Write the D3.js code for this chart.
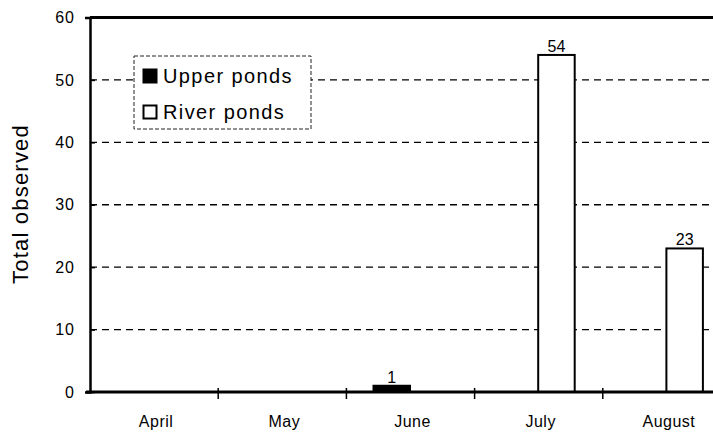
<!DOCTYPE html>
<html>
<head>
<meta charset="utf-8">
<script src="https://cdn.jsdelivr.net/npm/d3@7"></script>
<style>
  body { margin: 0; background: #fff; }
  svg { display: block; font-family: Arial, "Liberation Sans", sans-serif; }
</style>
</head>
<body>
<div id="chart"></div>
<script>
// data
var months = ["April", "May", "June", "July", "August"];
var series = ["Upper ponds", "River ponds"];
var upperPonds = [0, 0, 1, 0, 0];
var riverPonds = [0, 0, 0, 54, 23];
var yTicks = [0, 10, 20, 30, 40, 50, 60];

var W = 713, H = 437;
var margin = { left: 90, top: 17.5, bottom: 45 };
var plotRight = 731;   // plot keeps going past the right edge of the picture

var svg = d3.select("#chart").append("svg")
    .attr("width", W)
    .attr("height", H);

var x = d3.scaleBand().domain(months).range([margin.left, plotRight]);
var x1 = d3.scaleBand().domain(series)
    .range([x.bandwidth() / 2 - 37, x.bandwidth() / 2 + 36]);
var y = d3.scaleLinear().domain([0, 60]).range([392, margin.top]);

// dashed gridlines
svg.append("g").selectAll("line")
    .data(yTicks.filter(function(d){ return d > 0 && d < 60; }))
    .enter().append("line")
    .attr("x1", margin.left)
    .attr("x2", W)
    .attr("y1", function(d){ return y(d); })
    .attr("y2", function(d){ return y(d); })
    .attr("stroke", "#000")
    .attr("stroke-width", 1.4)
    .attr("stroke-dasharray", "7,5");

// top border
svg.append("line")
    .attr("x1", margin.left).attr("x2", W)
    .attr("y1", y(60)).attr("y2", y(60))
    .attr("stroke", "#000").attr("stroke-width", 3);

// y axis
var yAxis = svg.append("g")
    .attr("transform", "translate(" + margin.left + ",0)")
    .call(d3.axisLeft(y).tickValues(yTicks).tickSize(5).tickPadding(10));
yAxis.select(".domain").attr("stroke-width", 2.5);
yAxis.selectAll(".tick line").attr("x2", 5).attr("stroke-width", 1.5);
yAxis.selectAll(".tick text")
    .attr("font-size", "16px")
    .attr("letter-spacing", "1px")
    .attr("fill", "#000");

// y label
svg.append("text")
    .attr("transform", "rotate(-90)")
    .attr("x", -204)
    .attr("y", 28)
    .attr("text-anchor", "middle")
    .attr("font-size", "22px")
    .attr("letter-spacing", "1.2px")
    .text("Total observed");

// bars
var rows = months.map(function(m, i){
    return [
        { month: m, key: series[0], value: upperPonds[i] },
        { month: m, key: series[1], value: riverPonds[i] }
    ];
});
var groups = svg.append("g").selectAll("g")
    .data(rows)
    .enter().append("g")
    .attr("transform", function(d){ return "translate(" + x(d[0].month) + ",0)"; });

groups.selectAll("rect")
    .data(function(d){ return d.filter(function(v){ return v.value > 0; }); })
    .enter().append("rect")
    .attr("x", function(d){ return x1(d.key); })
    .attr("width", x1.bandwidth())
    .attr("y", function(d){ return y(d.value); })
    .attr("height", function(d){ return y(0) - y(d.value); })
    .attr("fill", function(d){ return d.key == series[0] ? "#000" : "#fff"; })
    .attr("stroke", "#000")
    .attr("stroke-width", 2);

groups.selectAll("text")
    .data(function(d){ return d.filter(function(v){ return v.value > 0; }); })
    .enter().append("text")
    .attr("x", function(d){ return x1(d.key) + x1.bandwidth() / 2; })
    .attr("y", function(d){ return y(d.value) - 3; })
    .attr("text-anchor", "middle")
    .attr("font-size", "16px")
    .text(function(d){ return d.value; });

// x axis
svg.append("line")
    .attr("x1", margin.left - 4).attr("x2", W)
    .attr("y1", y(0)).attr("y2", y(0))
    .attr("stroke", "#000").attr("stroke-width", 3);

svg.append("g").selectAll("line")
    .data(months.slice(1))
    .enter().append("line")
    .attr("x1", function(d){ return x(d); })
    .attr("x2", function(d){ return x(d); })
    .attr("y1", y(0) - 4)
    .attr("y2", y(0) + 7)
    .attr("stroke", "#000")
    .attr("stroke-width", 1.5);

svg.append("g").selectAll("text")
    .data(months)
    .enter().append("text")
    .attr("x", function(d){ return x(d) + x.bandwidth() / 2 + 2; })
    .attr("y", 427)
    .attr("text-anchor", "middle")
    .attr("font-size", "16px")
    .attr("letter-spacing", "0.5px")
    .text(function(d){ return d; });

// legend
var legend = svg.append("g").attr("transform", "translate(134,56)");
legend.append("rect")
    .attr("width", 177)
    .attr("height", 73)
    .attr("fill", "#fff")
    .attr("stroke", "#222")
    .attr("stroke-width", 1)
    .attr("stroke-dasharray", "4,2");

series.forEach(function(s, i){
    var row = legend.append("g")
        .attr("transform", "translate(0," + (i * 36) + ")");
    row.append("rect")
        .attr("x", 9.5)
        .attr("y", 13.5)
        .attr("width", 13)
        .attr("height", 13)
        .attr("fill", i == 0 ? "#000" : "#fff")
        .attr("stroke", "#000")
        .attr("stroke-width", 2);
    row.append("text")
        .attr("x", 29)
        .attr("y", 27)
        .attr("font-size", "20px")
        .attr("letter-spacing", "1.4px")
        .text(s);
});
</script>
</body>
</html>
